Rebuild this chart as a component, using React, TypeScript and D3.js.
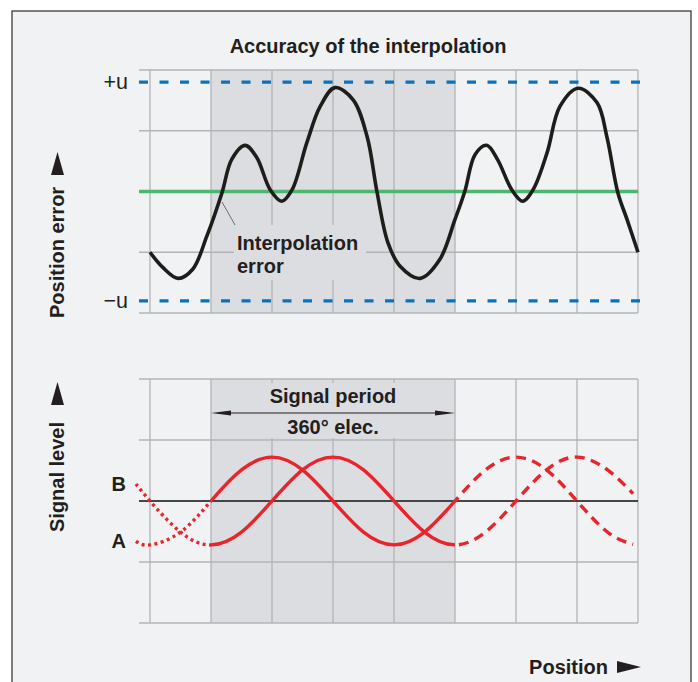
import React from 'react';
import * as d3 from 'd3';

// grid positions in grid units (one unit = one column / row)
const columnTicks = [0, 1, 2, 3, 4, 5, 6, 7, 8];
const rowTicks = [-2, -1, 0, 1, 2];
const periodStart = 1;
const periodEnd = 5;
const uLimit = 1.8;

// interpolation error curve
const errorX = [0, 0.21, 0.46, 0.7, 0.93, 1.18, 1.34, 1.56, 1.75, 1.97, 2.16, 2.33, 2.57, 2.79, 3.03, 3.33, 3.56, 3.72, 3.9, 4.1, 4.43, 4.75, 5.0, 5.16, 5.33, 5.52, 5.7, 5.93, 6.11, 6.28, 6.51, 6.72, 7.02, 7.33, 7.49, 7.67, 7.82, 8.0];
const errorY = [-1.0, -1.25, -1.43, -1.28, -0.74, -0.02, 0.53, 0.76, 0.56, 0.03, -0.16, 0.03, 0.8, 1.4, 1.71, 1.51, 0.9, 0.0, -0.84, -1.23, -1.43, -1.12, -0.46, 0.0, 0.61, 0.76, 0.52, 0.03, -0.16, 0.03, 0.64, 1.4, 1.7, 1.46, 0.9, -0.02, -0.46, -1.0];

// signals A and B
const signalX = [-0.23, 0, 0.5, 1, 1.5, 2, 2.5, 3, 3.5, 4, 4.5, 5, 5.5, 6, 6.5, 7, 7.5, 7.92];
const signalA = [-0.66, -0.72, -0.51, 0, 0.51, 0.72, 0.51, 0, -0.51, -0.72, -0.51, 0, 0.51, 0.72, 0.51, 0, -0.51, -0.71];
const signalB = [0.28, 0, -0.51, -0.72, -0.51, 0, 0.51, 0.72, 0.51, 0, -0.51, -0.72, -0.51, 0, 0.51, 0.72, 0.51, 0.12];

const FONT = '"Liberation Sans", Arial, Helvetica, sans-serif';
const INK = '#231f20';
const BG = '#f1f2f4';
const SHADE = '#dcdde0';
const GRID = '#b3b4b7';
const RED = '#e8242c';
const FS = 20;

export default function App() {
  const x = d3.scaleLinear().domain([0, 8]).range([150, 638]);
  const yTop = d3.scaleLinear().domain([-2, 2]).range([313, 70]);
  const yBot = d3.scaleLinear().domain([-2, 2]).range([623, 379]);
  const gridLeft = x(-0.18);

  const errLine = d3.line<number>()
    .x((_, i) => x(errorX[i]))
    .y((d) => yTop(d))
    .curve(d3.curveCatmullRom.alpha(0.5));

  const sigLine = (vals: number[]) =>
    d3.line<number>()
      .x((_, i) => x(signalX[i]))
      .y((d) => yBot(d))
      .curve(d3.curveNatural)(vals) || '';

  const grid = (y: d3.ScaleLinear<number, number>) => (
    <g stroke={GRID} strokeWidth={1.3}>
      {rowTicks.map((r) => (
        <line key={'h' + r} x1={gridLeft} x2={x(8)} y1={y(r)} y2={y(r)} />
      ))}
      {columnTicks.map((c) => (
        <line key={'v' + c} x1={x(c)} x2={x(c)} y1={y(2)} y2={y(-2)} />
      ))}
    </g>
  );

  const tri = (pts: number[][]) => pts.map((p) => p.join(',')).join(' ');

  const styles: [string, number, number, string | undefined][] = [
    ['dot', x(-0.5), x(periodStart), '3 3.5'],
    ['solid', x(periodStart), x(periodEnd), undefined],
    ['dash', x(periodEnd), x(8.5), '10 6.5'],
  ];

  return (
    <svg width={698} height={682} style={{ position: 'absolute', left: 0, top: 0 }} fontFamily={FONT}>
      <defs>
        {styles.map(([id, x0, x1]) => (
          <clipPath key={id} id={'clip-' + id}>
            <rect x={x0} y={360} width={x1 - x0} height={280} />
          </clipPath>
        ))}
      </defs>
      <rect x={0} y={0} width={698} height={682} fill="#fff" />
      <rect x={12} y={11} width={679} height={690} fill={BG} stroke="#2b2b2b" strokeWidth={1.2} />

      {/* top chart */}
      <text x={368} y={53} textAnchor="middle" fontWeight="bold" fontSize={FS} fill={INK}>
        Accuracy of the interpolation
      </text>
      <rect x={x(periodStart)} y={yTop(2)} width={x(periodEnd) - x(periodStart)} height={yTop(-2) - yTop(2)} fill={SHADE} />
      {grid(yTop)}
      <rect x={234} y={225} width={132} height={55} fill={SHADE} />
      <line x1={gridLeft} x2={x(8)} y1={yTop(0)} y2={yTop(0)} stroke="#4db86d" strokeWidth={3.6} />
      {[uLimit, -uLimit].map((u) => (
        <line key={u} x1={gridLeft} x2={x(8.05)} y1={yTop(u)} y2={yTop(u)} stroke="#0a72bd" strokeWidth={3.4} strokeDasharray="9 11.5" />
      ))}
      <path d={errLine(errorY) || ''} fill="none" stroke="#1d1d1b" strokeWidth={3.6} strokeLinejoin="round" />
      <line x1={222} y1={202} x2={235} y2={225} stroke="#6d6e71" strokeWidth={1} />
      <text x={237} y={250} fontWeight="bold" fontSize={FS} fill={INK}>Interpolation</text>
      <text x={237} y={273} fontWeight="bold" fontSize={FS} fill={INK}>error</text>
      <text x={128} y={yTop(uLimit) + 7} textAnchor="end" fontSize={21.5} fill={INK} fontWeight={300}>+u</text>
      <text x={128} y={yTop(-uLimit) + 7} textAnchor="end" fontSize={21.5} fill={INK} fontWeight={300}>−u</text>
      <text transform="translate(63.5,318) rotate(-90)" fontWeight="bold" fontSize={FS} fill={INK}>Position error</text>
      <polygon points={tri([[57.5, 152], [51, 175], [64, 175]])} fill={INK} />

      {/* bottom chart */}
      <rect x={x(periodStart)} y={yBot(2)} width={x(periodEnd) - x(periodStart)} height={yBot(-2) - yBot(2)} fill={SHADE} />
      {grid(yBot)}
      <rect x={x(periodStart) + 2} y={383} width={x(periodEnd) - x(periodStart) - 4} height={55} fill={SHADE} />
      <line x1={gridLeft} x2={x(8)} y1={yBot(0)} y2={yBot(0)} stroke="#1d1d1b" strokeWidth={1.6} />
      {styles.map(([id, , , dash]) => (
        <g key={id} clipPath={`url(#clip-${id})`} fill="none" stroke={RED} strokeWidth={3.4} strokeDasharray={dash}>
          <path d={sigLine(signalA)} />
          <path d={sigLine(signalB)} />
        </g>
      ))}
      <text x={x(3)} y={403} textAnchor="middle" fontWeight="bold" fontSize={FS} fill={INK}>Signal period</text>
      <text x={x(3)} y={434} textAnchor="middle" fontWeight="bold" fontSize={FS} fill={INK}>360° elec.</text>
      <line x1={x(periodStart) + 10} x2={x(periodEnd) - 10} y1={413} y2={413} stroke={INK} strokeWidth={1.2} />
      <polygon points={tri([[x(periodStart), 413], [x(periodStart) + 20, 410.6], [x(periodStart) + 20, 415.4]])} fill={INK} />
      <polygon points={tri([[x(periodEnd), 413], [x(periodEnd) - 20, 410.6], [x(periodEnd) - 20, 415.4]])} fill={INK} />
      <text x={126} y={yBot(signalB[0]) + 7} textAnchor="end" fontWeight="bold" fontSize={FS} fill={INK}>B</text>
      <text x={126} y={yBot(signalA[0]) + 7} textAnchor="end" fontWeight="bold" fontSize={FS} fill={INK}>A</text>
      <text transform="translate(63.5,532) rotate(-90)" fontWeight="bold" fontSize={FS} fill={INK}>Signal level</text>
      <polygon points={tri([[57.5, 382], [51, 405], [64, 405]])} fill={INK} />

      <text x={608} y={674} textAnchor="end" fontWeight="bold" fontSize={FS} fill={INK}>Position</text>
      <polygon points={tri([[617, 661], [641, 667], [617, 673]])} fill={INK} />
    </svg>
  );
}
